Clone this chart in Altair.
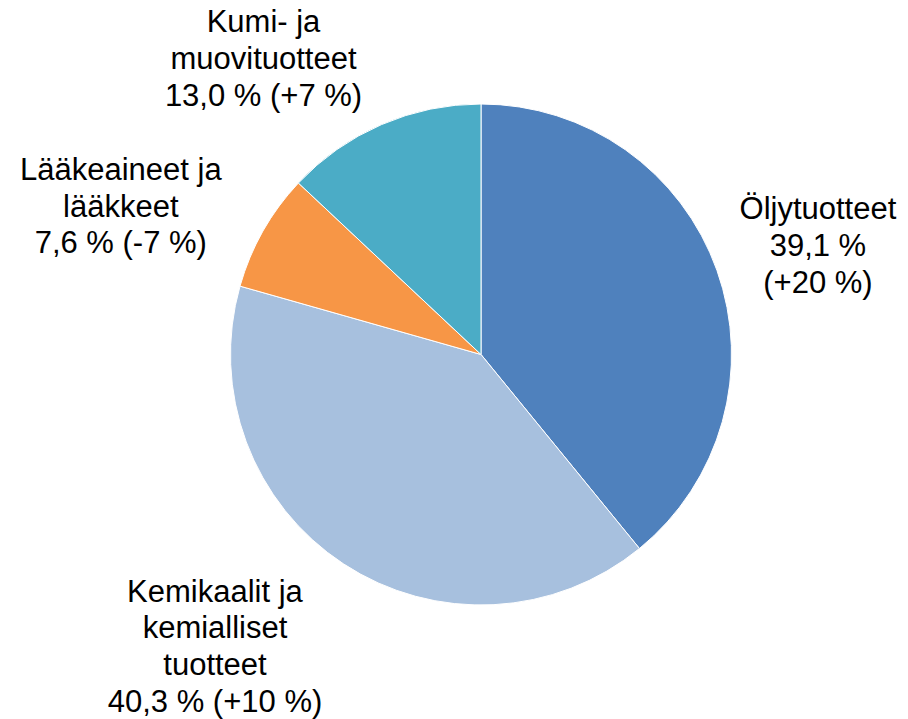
import altair as alt
import pandas as pd

# ---- data ----
categories = [
    "Öljytuotteet",
    "Kemikaalit ja kemialliset tuotteet",
    "Lääkeaineet ja lääkkeet",
    "Kumi- ja muovituotteet",
]
shares = [39.1, 40.3, 7.6, 13.0]
label_lines = [
    ["Öljytuotteet", "39,1 %", "(+20 %)"],
    ["Kemikaalit ja", "kemialliset", "tuotteet", "40,3 % (+10 %)"],
    ["Lääkeaineet ja", "lääkkeet", "7,6 % (-7 %)"],
    ["Kumi- ja", "muovituotteet", "13,0 % (+7 %)"],
]
slice_order = [0, 1, 2, 3]

# ---- styling ----
colors = ["#4F81BD", "#A7C0DE", "#F79646", "#4BACC6"]
label_offsets = [(100.5, -50.9), (-128.2, 37.4), (-141.8, -50.8), (-117.8, -91.8)]
PIE_R = 250.5
FONT = "Liberation Sans"
FS = 31
LH = 36.7

df = pd.DataFrame({"cat": categories, "value": shares, "o": slice_order, "lines": label_lines})

theta_scale = alt.Scale(domain=[0, 100])
base = alt.Chart(df)

arcs = base.mark_arc(radius=PIE_R, stroke="#ffffff", strokeWidth=1).encode(
    theta=alt.Theta("value:Q", stack=True, scale=theta_scale),
    color=alt.Color("cat:N", scale=alt.Scale(domain=categories, range=colors), legend=None),
    order=alt.Order("o:Q"),
)

lab_base = base.transform_window(
    cum="sum(value)", sort=[alt.SortField("o")]
).transform_calculate(mid="datum.cum - datum.value / 2")

texts = []
for c, (dx, dy) in zip(categories, label_offsets):
    texts.append(
        lab_base.transform_filter(alt.datum.cat == c)
        .mark_text(
            radius=251, dx=dx, dy=dy, align="center", baseline="alphabetic",
            font=FONT, fontSize=FS, lineHeight=LH, color="#000000",
        )
        .encode(theta=alt.Theta("mid:Q", scale=theta_scale), text="lines:N")
    )

chart = (
    alt.layer(arcs, *texts)
    .properties(
        width=700,
        height=693,
        autosize=alt.AutoSizeParams(type="none"),
        padding={"left": 123, "right": 69, "top": 0, "bottom": 18},
    )
    .configure_view(stroke=None)
)

chart.save("out.html", embed_options={"renderer": "svg", "actions": False})
